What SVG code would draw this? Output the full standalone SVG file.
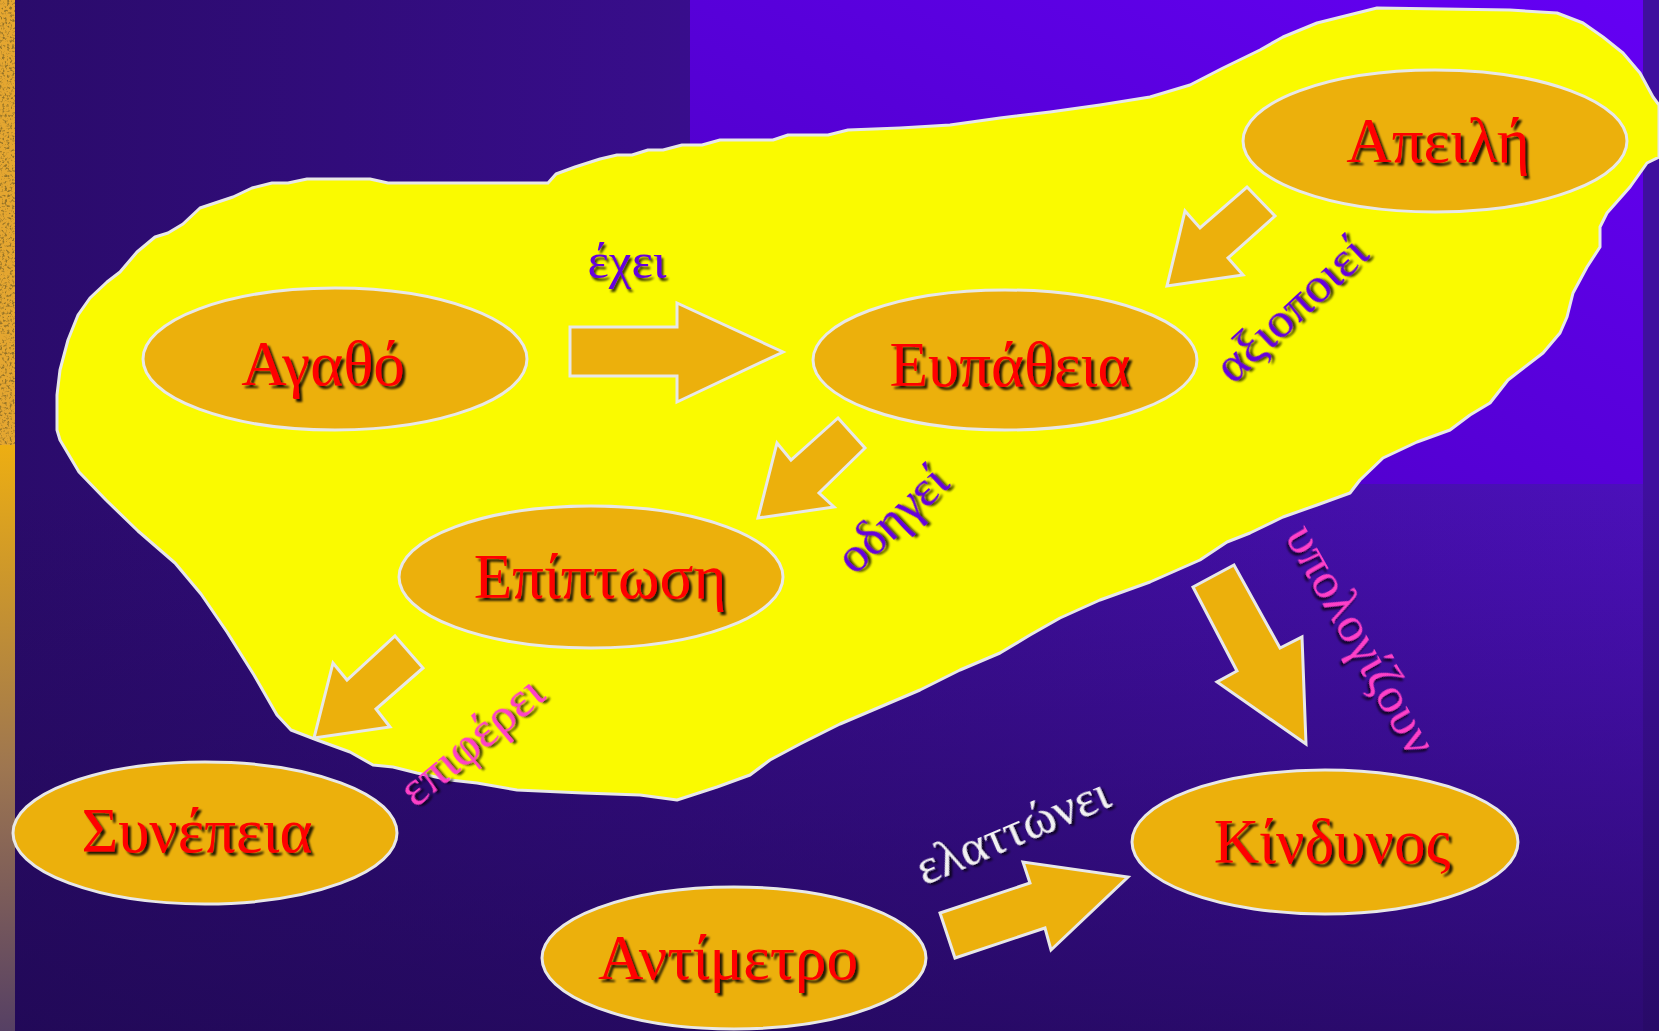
<svg xmlns="http://www.w3.org/2000/svg" width="1659" height="1031" viewBox="0 0 1659 1031">
<defs>
<linearGradient id="bgH" x1="0" y1="0" x2="1" y2="0">
<stop offset="0" stop-color="#2A0B6A"/><stop offset="1" stop-color="#4C10BC"/>
</linearGradient>
<linearGradient id="bgDark" x1="0" y1="0" x2="0" y2="1">
<stop offset="0" stop-color="#1E0850" stop-opacity="0"/><stop offset="1" stop-color="#1E0850" stop-opacity="0.7"/>
</linearGradient>
<linearGradient id="trRect" x1="0" y1="1" x2="1" y2="0">
<stop offset="0" stop-color="#4A00BE"/><stop offset="1" stop-color="#6400F4"/>
</linearGradient>
<linearGradient id="stripLow" x1="0" y1="0" x2="0" y2="1">
<stop offset="0" stop-color="#EDAE12"/><stop offset="0.55" stop-color="#9E7650"/><stop offset="1" stop-color="#564064"/>
</linearGradient>
<filter id="tex" x="0" y="0" width="1" height="1">
<feTurbulence type="fractalNoise" baseFrequency="0.4" numOctaves="2" seed="4"/>
<feColorMatrix type="matrix" values="0 0 0 0 0.3  0 0 0 0 0.17  0 0 0 0 0.02  4 0 0 0 -2.0"/>
</filter>
<filter id="sh" x="-10%" y="-20%" width="130%" height="150%">
<feDropShadow dx="3" dy="3" stdDeviation="1" flood-color="#000" flood-opacity="0.85"/>
</filter>
<filter id="shs" x="-10%" y="-20%" width="130%" height="150%">
<feDropShadow dx="2" dy="3" stdDeviation="1" flood-color="#000" flood-opacity="0.75"/>
</filter>
</defs>
<style>
.node ellipse{fill:#ECB00C;stroke:#E8E8E8;stroke-width:3}
.node text{font-family:"Liberation Serif","DejaVu Serif",serif;font-size:63px;fill:#FF0000;text-anchor:middle;filter:url(#sh)}
.arrow{fill:#ECB00C;stroke:#E8E8E8;stroke-width:3;stroke-linejoin:miter}
.lbl{font-family:"Liberation Serif","DejaVu Serif",serif;font-size:51px;text-anchor:middle;filter:url(#shs)}
.purple{fill:#6600DD}
.pink{fill:#FF40C8}
.white{fill:#F2F2F2}
</style>

<!-- background -->
<rect x="0" y="0" width="1659" height="1031" fill="url(#bgH)"/>
<rect x="1643" y="0" width="16" height="1031" fill="#3F0F9E"/>
<rect x="690" y="0" width="953" height="484" fill="url(#trRect)"/>
<rect x="15" y="484" width="1644" height="547" fill="url(#bgDark)"/>
<rect x="0" y="0" width="15" height="445" fill="#E4A630"/>
<rect x="0" y="0" width="15" height="445" filter="url(#tex)"/>
<rect x="0" y="445" width="15" height="586" fill="url(#stripLow)"/>

<!-- yellow region -->
<path id="blob" d="M57,430 L57,395 L60,370 L68,340 L78,315 L90,298 L107,282 L120,272 L137,252 L155,237 L168,233 L183,224 L200,208 L233,197 L252,188 L272,183 L288,183 L307,179 L370,179 L388,183 L548,183 L556,174 L575,167 L600,159 L617,155 L632,155 L648,150 L663,150 L682,145 L702,145 L720,140 L773,140 L788,135 L828,135 L848,130 L900,128 L950,125 L1000,118 L1050,112 L1100,105 L1150,97 L1190,85 L1223,68 L1260,50 L1283,37 L1317,23 L1377,8 L1510,10 L1557,13 L1583,23 L1603,37 L1623,53 L1640,73 L1653,97 L1659,105 L1659,157 L1647,163 L1630,187 L1607,213 L1600,227 L1600,247 L1587,267 L1573,293 L1567,317 L1560,333 L1543,353 L1517,373 L1508,380 L1490,403 L1470,415 L1450,430 L1417,442 L1383,458 L1360,480 L1350,493 L1317,505 L1283,517 L1250,533 L1227,542 L1200,560 L1150,582 L1100,600 L1060,618 L1030,635 L1000,653 L960,670 L920,690 L880,707 L840,724 L800,744 L770,760 L750,775 L717,787 L677,800 L640,795 L583,793 L517,790 L477,783 L450,780 L417,773 L393,767 L373,765 L350,752 L317,740 L291,730 L277,715 L254,675 L227,632 L201,594 L175,563 L138,531 L106,500 L79,472 L60,440 Z" fill="#FAFA00" stroke="#E8E8E8" stroke-width="3" stroke-linejoin="round"/>

<!-- connectors -->
<g id="connectors">
<polygon class="arrow" points="570,327 677,327 677,303 783,352 677,402 677,376 570,376"/>
<polygon class="arrow" points="1247,187 1275,216 1228,258 1243,275 1167,286 1185,211 1200,228"/>
<polygon class="arrow" points="838,418 865,448 819,493 834,507 758,518 777,443 791,460"/>
<polygon class="arrow" points="395,636 423,668 376,709 390,727 314,738 333,663 347,680"/>
<polygon class="arrow" points="1193,587 1234,565 1280,648 1302,637 1306,744 1217,682 1237,671"/>
<polygon class="arrow" points="940,913 1030,883 1023,862 1128,877 1051,950 1045,928 955,958"/>
<text class="lbl purple" x="627" y="278">έχει</text>
<text class="lbl purple" transform="translate(1292,310) rotate(-43)" x="0" y="15">αξιοποιεί</text>
<text class="lbl purple" transform="translate(893,520) rotate(-43)" x="0" y="15">οδηγεί</text>
<text class="lbl pink" transform="translate(472,742) rotate(-40)" x="0" y="15">επιφέρει</text>
<text class="lbl pink" transform="translate(1360,640) rotate(60.5)" x="0" y="15">υπολογίζουν</text>
<text class="lbl white" transform="translate(1013,832) rotate(-23)" x="0" y="15">ελαττώνει</text>
</g>

<!-- nodes -->
<g id="node-agatho" class="node"><ellipse cx="335" cy="359" rx="192" ry="71"/><text x="323" y="385">Αγαθό</text></g>
<g id="node-eypatheia" class="node"><ellipse cx="1005" cy="360" rx="192" ry="70"/><text x="1010" y="386">Ευπάθεια</text></g>
<g id="node-apeili" class="node"><ellipse cx="1435" cy="141" rx="192" ry="71"/><text x="1438" y="162">Απειλή</text></g>
<g id="node-epiptosi" class="node"><ellipse cx="591" cy="577" rx="192" ry="71"/><text x="600" y="598">Επίπτωση</text></g>
<g id="node-synepeia" class="node"><ellipse cx="205" cy="833" rx="192" ry="71"/><text x="197" y="852">Συνέπεια</text></g>
<g id="node-kindynos" class="node"><ellipse cx="1325" cy="842" rx="193" ry="72"/><text x="1332" y="863">Κίνδυνος</text></g>
<g id="node-antimetro" class="node"><ellipse cx="734" cy="958" rx="192" ry="71"/><text x="728" y="979">Αντίμετρο</text></g>
</svg>
